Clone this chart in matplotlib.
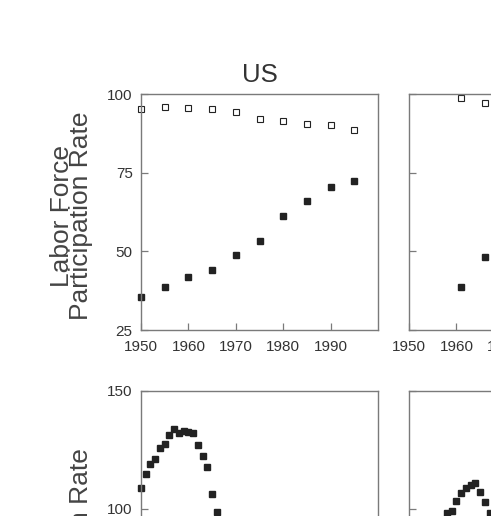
import matplotlib
matplotlib.use("Agg")
import matplotlib.pyplot as plt

plt.rcParams['font.family'] = ['Liberation Sans', 'DejaVu Sans']

# labor force participation, US (census-style 5 year steps)
us_years = [1950, 1955, 1960, 1965, 1970, 1975, 1980, 1985, 1990, 1995]
us_men = [95.1, 96.0, 95.6, 95.1, 94.3, 92.1, 91.4, 90.6, 90.1, 88.6]
us_women = [35.6, 38.8, 41.7, 44.1, 48.8, 53.3, 61.1, 66.1, 70.5, 72.4]

# second country (cut off at the right edge)
c2_years = [1961, 1966]
c2_men = [98.6, 97.0]
c2_women = [38.8, 48.1]

# fertility row
us_fert_years = list(range(1950, 1967))
us_fert = [108.8, 114.8, 119.1, 121.3, 125.7, 127.5, 131.2, 134.0, 132.3,
           133.2, 132.8, 132.3, 127.1, 122.5, 117.7, 106.5, 98.7]
c2_fert_years = list(range(1958, 1968))
c2_fert = [98.4, 99.3, 103.4, 106.9, 108.8, 110.2, 111.1, 107.3, 103.1, 98.4]

lfp_label = 'Labor Force\nParticipation Rate'
fert_label = 'Fertility\nGross Reproduction Rate'

W, H = 491, 516
fig = plt.figure(figsize=(W / 100, H / 100), dpi=100)


def px_axes(x0, y0, w, h):
    # axes from pixel box (top-left origin)
    return fig.add_axes([x0 / W, (H - y0 - h) / H, w / W, h / H])


def style(ax):
    for s in ax.spines.values():
        s.set_color('#7a7a7a')
        s.set_linewidth(1.0)
    ax.tick_params(direction='in', length=5, width=0.9, color='#7a7a7a',
                   labelsize=11, labelcolor='#333333', pad=6)
    ax.tick_params(axis='x', pad=7.5)


ax1 = px_axes(141, 94, 237, 236)
ax2 = px_axes(409, 94, 237, 236)
ax3 = px_axes(141, 391, 237, 236)
ax4 = px_axes(409, 391, 237, 236)

for ax in (ax1, ax2):
    ax.set_xlim(1950, 2000)
    ax.set_ylim(25, 100)
    ax.set_xticks([1950, 1960, 1970, 1980, 1990])
    ax.set_yticks([25, 50, 75, 100])
    style(ax)
for ax in (ax3, ax4):
    ax.set_xlim(1950, 2000)
    ax.set_ylim(50, 150)
    ax.set_xticks([1950, 1960, 1970, 1980, 1990])
    ax.set_yticks([50, 100, 150])
    style(ax)

ax2.tick_params(labelleft=False)
ax4.tick_params(labelleft=False)

ax1.plot(us_years, us_men, 's', ms=4.3, mfc='white', mec='#222222', mew=0.8, clip_on=False)
ax1.plot(us_years, us_women, 's', ms=4.3, color='#222222', clip_on=False)
ax2.plot(c2_years, c2_men, 's', ms=4.3, mfc='white', mec='#222222', mew=0.8, clip_on=False)
ax2.plot(c2_years, c2_women, 's', ms=4.3, color='#222222', clip_on=False)
ax3.plot(us_fert_years, us_fert, 's', ms=4.0, color='#222222', clip_on=False)
ax4.plot(c2_fert_years, c2_fert, 's', ms=4.0, color='#222222', clip_on=False)

ax1.set_title('US', fontsize=18.5, color='#333333', pad=9)

ax1.set_ylabel(lfp_label, fontsize=19, color='#444444', linespacing=0.72)
ax1.yaxis.set_label_coords(-0.2025, 0.485)

ax3.set_ylabel(fert_label, fontsize=19, color='#444444', linespacing=0.72,
               ha='right', multialignment='center')
ax3.yaxis.set_label_coords(-0.2025, 0.758)

fig.savefig('out.png', dpi=100)
